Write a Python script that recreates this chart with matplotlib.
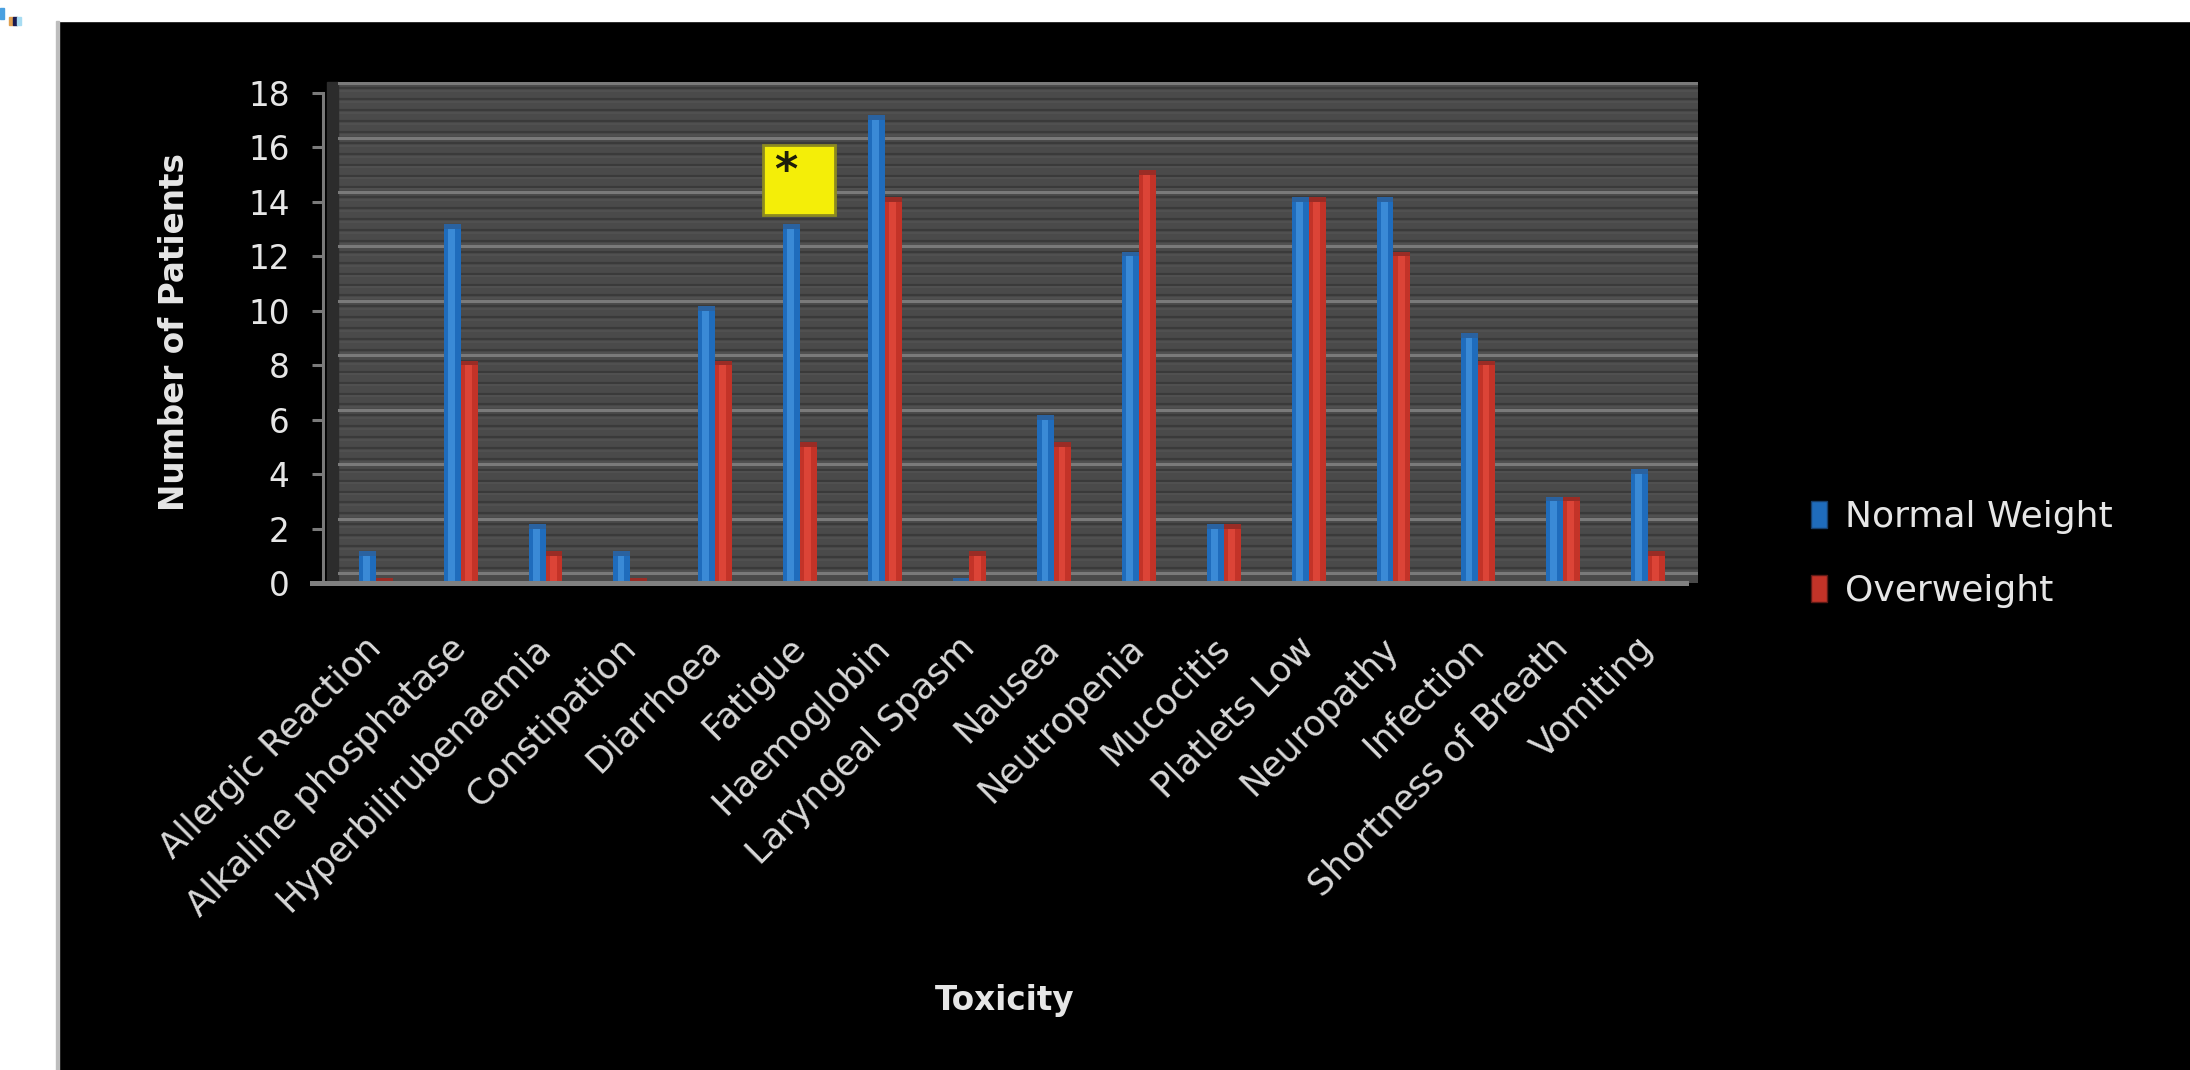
import numpy as np
import matplotlib.pyplot as plt
from matplotlib.patches import Rectangle, Patch

# ---- data ----
categories = ['Allergic Reaction', 'Alkaline phosphatase', 'Hyperbilirubenaemia',
              'Constipation', 'Diarrhoea', 'Fatigue', 'Haemoglobin', 'Laryngeal Spasm',
              'Nausea', 'Neutropenia', 'Mucocitis', 'Platlets Low', 'Neuropathy',
              'Infection', 'Shortness of Breath', 'Vomiting']
normal_weight = [1, 13, 2, 1, 10, 13, 17, 0, 6, 12, 2, 14, 14, 9, 3, 4]
overweight = [0, 8, 1, 0, 8, 5, 14, 1, 5, 15, 2, 14, 12, 8, 3, 1]
series_names = ['Normal Weight', 'Overweight']
y_ticks = list(range(0, 19, 2))
marked_category = 'Fatigue'

# ---- style ----
BLUE, BLUE_HI, BLUE_TOP = '#1f6cbc', '#3a8ad6', '#2a62a0'
RED, RED_HI, RED_TOP = '#c33328', '#dc4437', '#9a2c25'
WALL = '#4a4a4a'
GRID = '#7a7a7a'
TEXT = '#e6e6e6'
SHIFT = 0.36  # back-wall gridlines sit a little above the front axis ticks (3D look)

plt.rcParams['font.family'] = ['DejaVu Sans']

fig = plt.figure(figsize=(21.9, 10.7), dpi=100, facecolor='black')

# white page margins round the pasted chart
fig.patches.append(Rectangle((0, 0), 56 / 2190, 1, transform=fig.transFigure,
                             color='white', zorder=0))
fig.patches.append(Rectangle((0, 1 - 21 / 1070), 1, 21 / 1070, transform=fig.transFigure,
                             color='white', zorder=0))
fig.patches.append(Rectangle((56 / 2190, 0), 3 / 2190, 1 - 21 / 1070, transform=fig.transFigure,
                             color='#bdbdbd', zorder=0))
# tiny fragment of a neighbouring figure in the corner
for (x0, y0, w0, h0, c) in [(0, 8, 4, 11, '#4aa0e0'), (9, 17, 4, 8, '#e0a050'),
                            (13, 17, 4, 8, '#1a1a50'), (17, 17, 4, 8, '#a8dcf2')]:
    fig.patches.append(Rectangle((x0 / 2190, 1 - (y0 + h0) / 1070), w0 / 2190, h0 / 1070,
                                 transform=fig.transFigure, color=c, zorder=1))

ax = fig.add_axes([0.1543, 0.4551, 0.6210, 0.4683])
ax.set_facecolor(WALL)

x = np.arange(len(categories))
w = 0.2

# striped back wall + major gridlines
for v in np.arange(0, 18.01, 0.4):
    ax.axhline(v + SHIFT + 0.2, color='#3a3a3a', lw=1.6, zorder=1)
    ax.axhline(v + SHIFT + 0.1, color='#525252', lw=1.2, zorder=1)
for v in y_ticks:
    ax.axhline(v + SHIFT, color=GRID, lw=2.2, zorder=2)

# bars with a lighter stripe and a small top face
ax.bar(x - w / 2, normal_weight, w, color=BLUE, zorder=3, label=series_names[0])
ax.bar(x - w / 2 - 0.01, normal_weight, 0.08, color=BLUE_HI, zorder=4)
ax.bar(x - w / 2, 0.17, w, bottom=normal_weight, color=BLUE_TOP, zorder=3)
ax.bar(x + w / 2, overweight, w, color=RED, zorder=3, label=series_names[1])
ax.bar(x + w / 2 - 0.01, overweight, 0.08, color=RED_HI, zorder=4)
ax.bar(x + w / 2, 0.17, w, bottom=overweight, color=RED_TOP, zorder=3)

ax.set_xlim(-0.448, 15.59)
ax.set_ylim(0, 18.4)

# axes / spines
for s in ['top', 'right', 'bottom']:
    ax.spines[s].set_visible(False)
ax.spines['left'].set_position(('outward', 10.8))
ax.spines['left'].set_bounds(0, 18)
ax.spines['left'].set_color(GRID)
ax.spines['left'].set_linewidth(2.2)
ax.axhline(0, xmin=-0.019, xmax=0.991, color='#808080', lw=3.6, clip_on=False, zorder=5)
ax.add_patch(Rectangle((-0.008, 0), 0.008, 1, transform=ax.transAxes, color='#2c2c2c',
                       clip_on=False, zorder=1))

ax.set_yticks(y_ticks)
ax.tick_params(axis='y', labelsize=23.5, labelcolor=TEXT, color=GRID, length=8,
               width=2.2, pad=16)
ax.set_xticks(x, categories, rotation=45, ha='right', va='center', rotation_mode='anchor')
ax.tick_params(axis='x', length=0, pad=43, labelsize=25.5, labelcolor='#d8d8d8')

ax.set_ylabel('Number of Patients', fontsize=23.5, fontweight='bold', color=TEXT)
ax.yaxis.label.set_va('center')
ax.yaxis.set_label_coords(-0.12, 0.5)
ax.set_xlabel('Toxicity', fontsize=23.5, fontweight='bold', color=TEXT)
ax.xaxis.label.set_va('center')
ax.xaxis.set_label_coords(0.49, -0.834)

# yellow marker box over Fatigue
i = categories.index(marked_category)
ax.add_patch(Rectangle((i - 0.43, 13.5), 0.84, 2.6, facecolor='#f4ee08',
                       edgecolor='#8c8a20', lw=2, zorder=6))
ax.text(i - 0.17, 15.1, '*', fontsize=32, fontweight='bold', color='#1e1e0a',
        ha='center', va='center', zorder=7)

handles = [Patch(facecolor=BLUE, edgecolor='#173f6c'), Patch(facecolor=RED, edgecolor='#5e1a16')]
fig.legend(handles, series_names, loc='center left', bbox_to_anchor=(0.827, 0.4822),
           frameon=False, fontsize=26, labelcolor=TEXT, handlelength=0.45,
           handleheight=0.75, handletextpad=0.5, labelspacing=1.1, borderpad=0,
           borderaxespad=0)

fig.savefig('out.png', dpi=100, facecolor='black')
